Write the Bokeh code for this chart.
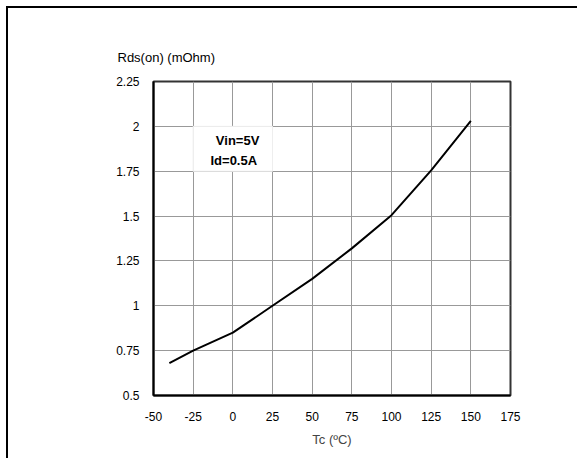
from bokeh.plotting import figure
from bokeh.models import FixedTicker, ColumnDataSource, Title
from bokeh.core.properties import value
from bokeh.embed import file_html
from bokeh.resources import INLINE

# data
temperature = [-40, -25, 0, 25, 50, 75, 100, 125, 150]
rds_on = [0.68, 0.75, 0.85, 1.0, 1.15, 1.32, 1.505, 1.755, 2.03]
x_ticks = [-50, -25, 0, 25, 50, 75, 100, 125, 150, 175]
y_ticks = [0.5, 0.75, 1.0, 1.25, 1.5, 1.75, 2.0, 2.25]
y_tick_labels = ["0.5", "0.75", "1", "1.25", "1.5", "1.75", "2", "2.25"]
note_lines = ["Vin=5V", "Id=0.5A"]
x_label = "Tc (ºC)"
y_label = "Rds(on) (mOhm)"

FONT = "Liberation Sans"

p = figure(width=571, height=452, output_backend="svg", toolbar_location=None,
           x_range=(-50, 175), y_range=(0.5, 2.25),
           min_border_left=145, min_border_right=69, min_border_top=73, min_border_bottom=65,
           styles={"border-top": "2px solid black", "border-left": "2px solid black",
                   "border-right": "0px none white", "border-bottom": "0px none white",
                   "margin-left": "6px", "margin-top": "6px", "overflow": "hidden"})
p.title.visible = False
p.background_fill_color = "white"
p.border_fill_color = "white"
p.outline_line_color = "#333333"
p.outline_line_width = 2

p.xaxis.ticker = FixedTicker(ticks=x_ticks)
p.yaxis.ticker = FixedTicker(ticks=y_ticks)
p.yaxis.major_label_overrides = {t: l for t, l in zip(y_ticks, y_tick_labels)}
p.xaxis.major_label_overrides = {t: str(t) for t in x_ticks}

for ax in (p.xaxis, p.yaxis):
    ax.axis_line_color = "black"
    ax.axis_line_width = 2
    ax.major_tick_line_color = None
    ax.minor_tick_line_color = None
    ax.major_label_text_font = FONT
    ax.major_label_text_font_size = "12px"
    ax.major_label_text_color = "black"
p.yaxis.major_label_standoff = 8
p.xaxis.major_label_standoff = 10

p.xaxis.axis_label = x_label
p.xaxis.axis_label_text_font = FONT
p.xaxis.axis_label_text_font_size = "13px"
p.xaxis.axis_label_text_font_style = "normal"
p.xaxis.axis_label_standoff = 8

p.grid.grid_line_color = "#999999"
p.grid.grid_line_width = 1

# legend box
p.quad(left=[-25], right=[25], bottom=[1.75], top=[2.0], fill_color="white",
       line_color="#eeeeee", line_width=1)

src = ColumnDataSource(dict(x=[3, 0.6], y=[1.92, 1.81], t=note_lines))
p.text(x="x", y="y", text="t", source=src, text_font=value(FONT),
       text_font_size="13px", text_font_style="bold", text_align="center",
       text_baseline="middle", text_color="black")

p.line(temperature, rds_on, line_color="black", line_width=2)

ttl = Title(text=y_label, align="left", offset=-36, text_font=FONT,
            text_font_size="13px", text_font_style="normal", text_color="black",
            standoff=33)
p.add_layout(ttl, "above")

open("out.html", "w").write(file_html(p, INLINE))
